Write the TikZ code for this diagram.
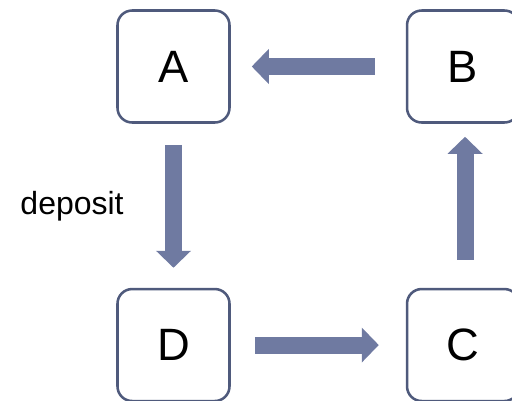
\documentclass[tikz,border=0pt]{standalone}
\usepackage{fontspec}
\setmainfont{Liberation Sans}
\usetikzlibrary{positioning, arrows.meta}

\definecolor{boxline}{HTML}{4F5A7C}
\definecolor{flowfill}{HTML}{6F7AA1}

\begin{document}
\begin{tikzpicture}[x=0.75pt, y=-0.75pt,
    acct/.style={draw=boxline, line width=1.9pt, rounded corners=11pt, fill=white,
      minimum width=84pt, minimum height=84pt, font=\fontsize{34}{40}\selectfont},
    flow/.style={draw=flowfill, line width=12.75pt,
      -{Triangle[width=25.5pt, length=12.75pt, fill=flowfill]}}]
        \useasboundingbox (0,0) rectangle (512,401);
        \node[acct] (a) at (173.5,66.5) {A};
        \node[acct] (b) [right=131.25pt of a] {B};
        \node[acct] (d) [below=123pt of a] {D};
        \node[acct] (c) [right=131.25pt of d] {C};
        % the cycle of transfers
        \draw[flow, shorten <=23.25pt, shorten >=15.75pt] (b) -- (a);
        \draw[flow, shorten <=15.75pt, shorten >=15pt] (a) -- node[left=31pt, inner sep=0pt, font=\fontsize{24}{28}\selectfont] {deposit} (d);
        \draw[flow, shorten <=18pt, shorten >=20.25pt] (d) -- (c);
        \draw[flow, shorten <=21pt, shorten >=9.75pt] ([xshift=1.5pt]c.north) -- ([xshift=1.5pt]b.south);
      \end{tikzpicture}
\end{document}
